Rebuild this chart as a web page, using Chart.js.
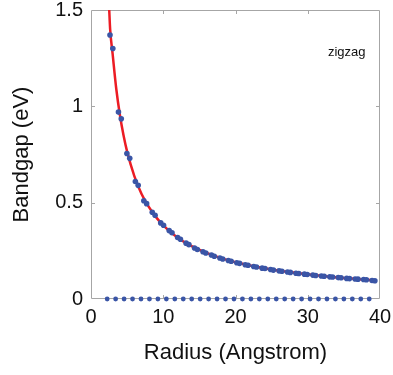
<!DOCTYPE html>
<html>
<head>
<meta charset="utf-8">
<script src="https://cdn.jsdelivr.net/npm/chart.js@4"></script>
<style>
  body { margin: 0; background: #fff; }
  #wrap { width: 393px; height: 375px; }
</style>
</head>
<body>
<div id="wrap"><canvas id="gapChart" width="393" height="375"></canvas></div>
<script>
// Радиусы полупроводниковых трубок (Å) и их ширина щели (эВ)
const semiRadius = [2.63, 3.02, 3.80, 4.19, 4.97, 5.36, 6.14, 6.53, 7.31, 7.70,
  8.48, 8.87, 9.65, 10.04, 10.82, 11.21, 11.99, 12.38, 13.16, 13.55,
  14.33, 14.72, 15.50, 15.89, 16.67, 17.06, 17.84, 18.23, 19.01, 19.40,
  20.18, 20.57, 21.35, 21.74, 22.52, 22.91, 23.69, 24.08, 24.86, 25.25,
  26.03, 26.42, 27.20, 27.59, 28.37, 28.76, 29.54, 29.93, 30.71, 31.10,
  31.88, 32.27, 33.05, 33.44, 34.22, 34.61, 35.39, 35.78, 36.56, 36.95,
  37.73, 38.12, 38.90, 39.29];
const semiGap = [1.37, 1.30, 0.97, 0.935, 0.755, 0.73, 0.61, 0.59, 0.51, 0.495,
  0.45, 0.435, 0.395, 0.383, 0.355, 0.344, 0.319, 0.31, 0.29, 0.282,
  0.265, 0.257, 0.245, 0.239, 0.228, 0.222, 0.213, 0.208, 0.2, 0.196,
  0.188, 0.185, 0.178, 0.175, 0.169, 0.166, 0.160, 0.158, 0.153, 0.150,
  0.146, 0.144, 0.140, 0.138, 0.134, 0.132, 0.129, 0.127, 0.124, 0.122,
  0.119, 0.118, 0.115, 0.114, 0.111, 0.110, 0.107, 0.106, 0.104, 0.103,
  0.101, 0.100, 0.096, 0.095];

// Металлические трубки (щель = 0)
const metalRadius = [2.24, 3.41, 4.58, 5.75, 6.92, 8.09, 9.26, 10.43, 11.60, 12.77,
  13.94, 15.11, 16.28, 17.45, 18.62, 19.79, 20.96, 22.13, 23.30, 24.47,
  25.64, 26.81, 27.98, 29.15, 30.32, 31.49, 32.66, 33.83, 35.00, 36.17,
  37.34, 38.51];
const metalGap = metalRadius.map(() => 0);

// Аппроксимирующая кривая
const fitRadius = [2.5, 2.65, 3.0, 3.5, 4, 4.5, 5, 6, 7, 8, 9, 10, 12, 14, 16, 18,
  20, 22, 25, 28, 31, 34, 37, 39.3];
const fitGap = [1.52, 1.40, 1.27, 1.09, 0.955, 0.85, 0.765, 0.638, 0.545, 0.478,
  0.425, 0.382, 0.318, 0.273, 0.239, 0.212, 0.191, 0.174, 0.153, 0.137,
  0.124, 0.112, 0.103, 0.096];

const xTicks = [0, 10, 20, 30, 40];
const yTicks = [0, 0.5, 1, 1.5];

const zip = (xs, ys) => xs.map((x, i) => ({ x: x, y: ys[i] }));

const FONT = "'Liberation Sans', Arial, Helvetica, sans-serif";
const BLUE = '#3a55a6';
const RED = '#ec1c24';
const BOX = '#a6a6a6';

// Рамка и внутренние засечки (под точками), подпись "zigzag" поверх
const framePlugin = {
  id: 'frame',
  beforeDatasetsDraw(chart) {
    const { ctx, chartArea: a, scales } = chart;
    ctx.save();
    ctx.strokeStyle = BOX;
    ctx.lineWidth = 1;
    ctx.beginPath();
    ctx.rect(a.left + 0.5, a.top + 0.5, a.right - a.left - 1, a.bottom - a.top - 1);
    ctx.stroke();
    const tl = 4;
    ctx.beginPath();
    xTicks.slice(1, -1).forEach(v => {
      const px = Math.round(scales.x.getPixelForValue(v)) + 0.5;
      ctx.moveTo(px, a.bottom); ctx.lineTo(px, a.bottom - tl);
      ctx.moveTo(px, a.top); ctx.lineTo(px, a.top + tl);
    });
    yTicks.slice(1, -1).forEach(v => {
      const py = Math.round(scales.y.getPixelForValue(v)) + 0.5;
      ctx.moveTo(a.left, py); ctx.lineTo(a.left + tl, py);
      ctx.moveTo(a.right, py); ctx.lineTo(a.right - tl, py);
    });
    ctx.stroke();
    ctx.restore();
  },
  afterDatasetsDraw(chart) {
    const { ctx, scales } = chart;
    ctx.save();
    ctx.fillStyle = '#111';
    ctx.font = '13px ' + FONT;
    ctx.textAlign = 'center';
    ctx.textBaseline = 'middle';
    ctx.fillText('zigzag', scales.x.getPixelForValue(35.4), scales.y.getPixelForValue(1.28));
    ctx.restore();
  }
};

new Chart(document.getElementById('gapChart'), {
  type: 'scatter',
  data: {
    datasets: [
      {
        label: 'semiconducting',
        data: zip(semiRadius, semiGap),
        backgroundColor: BLUE,
        borderColor: BLUE,
        pointRadius: 2.8,
        borderWidth: 0,
        clip: 6,
        order: 1
      },
      {
        label: 'metallic',
        data: zip(metalRadius, metalGap),
        backgroundColor: BLUE,
        borderColor: BLUE,
        pointRadius: 2.4,
        borderWidth: 0,
        clip: 6,
        order: 1
      },
      {
        label: 'fit',
        data: zip(fitRadius, fitGap),
        showLine: true,
        borderColor: RED,
        borderWidth: 2.5,
        pointRadius: 0,
        cubicInterpolationMode: 'monotone',
        clip: 0,
        order: 2
      }
    ]
  },
  options: {
    responsive: false,
    animation: false,
    layout: { padding: { top: 10, right: 13, left: 0, bottom: 0 } },
    plugins: {
      legend: { display: false },
      tooltip: { enabled: false }
    },
    scales: {
      x: {
        type: 'linear',
        min: 0,
        max: 40,
        afterBuildTicks: s => { s.ticks = xTicks.map(v => ({ value: v })); },
        afterFit: s => { s.height = 76; s.paddingLeft = 0; s.paddingRight = 0; },
        grid: { display: false, drawTicks: false },
        border: { display: false },
        ticks: { color: '#111', font: { family: FONT, size: 20 }, padding: 6, maxRotation: 0,
          callback: v => String(v) },
        title: {
          display: true,
          text: 'Radius (Angstrom)',
          color: '#111',
          font: { family: FONT, size: 22 },
          padding: { top: 0, bottom: 9 }
        }
      },
      y: {
        type: 'linear',
        min: 0,
        max: 1.5,
        afterBuildTicks: s => { s.ticks = yTicks.map(v => ({ value: v })); },
        afterFit: s => { s.width = 91; s.paddingTop = 0; s.paddingBottom = 0; },
        grid: { display: false, drawTicks: false },
        border: { display: false },
        ticks: { color: '#111', font: { family: FONT, size: 20 }, padding: 8,
          callback: v => String(v) },
        title: {
          display: true,
          text: 'Bandgap (eV)',
          color: '#111',
          font: { family: FONT, size: 22 },
          padding: { top: 9, bottom: 0 }
        }
      }
    }
  },
  plugins: [framePlugin]
});
</script>
</body>
</html>
